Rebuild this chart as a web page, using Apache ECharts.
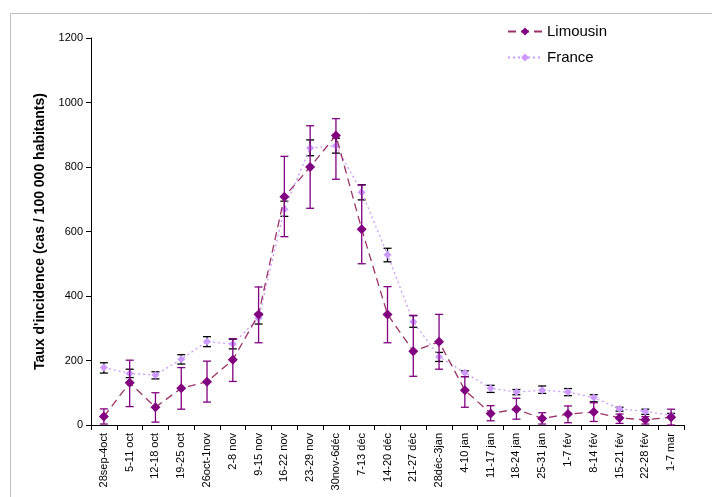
<!DOCTYPE html>
<html>
<head>
<meta charset="utf-8">
<script src="https://cdn.jsdelivr.net/npm/echarts@6/dist/echarts.min.js"></script>
<style>html,body{margin:0;padding:0;background:#fff}#c{width:712px;height:497px}</style>
</head>
<body>
<div id="c"></div>
<script>
const categories = ['28sep-4oct','5-11 oct','12-18 oct','19-25 oct','26oct-1nov','2-8 nov','9-15 nov','16-22 nov','23-29 nov','30nov-6déc','7-13 déc','14-20 déc','21-27 déc','28déc-3jan','4-10 jan','11-17 jan','18-24 jan','25-31 jan','1-7 fév','8-14 fév','15-21 fév','22-28 fév','1-7 mar'];
const limousin     = [26,131,55,114,134,202,343,708,800,898,607,343,229,258,108,36,49,20,34,40,22,16,24];
const limousinLow  = [3,57,9,49,71,135,255,584,672,762,500,255,151,173,55,13,18,3,7,11,5,3,0];
const limousinHigh = [50,201,100,178,198,268,428,833,928,950,744,429,340,343,150,60,83,38,59,69,34,26,49];
const france       = [178,160,155,204,259,251,331,669,859,866,722,528,320,212,162,114,102,108,102,85,50,42,30];
const franceLow    = [161,147,143,189,243,236,313,647,835,843,698,506,303,197,150,101,94,98,91,72,43,33,24];
const franceHigh   = [193,173,165,218,274,266,346,694,884,889,745,548,339,225,168,123,110,121,113,94,55,49,36];
const yTicks = [0,200,400,600,800,1000,1200];

function errData(lo, hi){ return lo.map((v,i)=>[i, v, hi[i]]); }
function errRender(color, cap){
  return function(params, api){
    const lo = api.coord([api.value(0), api.value(1)]);
    const hi = api.coord([api.value(0), api.value(2)]);
    const st = {stroke: color, lineWidth: 1.3};
    return {type:'group', children:[
      {type:'line', shape:{x1:lo[0],y1:lo[1],x2:hi[0],y2:hi[1]}, style:st},
      {type:'line', shape:{x1:lo[0]-cap,y1:lo[1],x2:lo[0]+cap,y2:lo[1]}, style:st},
      {type:'line', shape:{x1:hi[0]-cap,y1:hi[1],x2:hi[0]+cap,y2:hi[1]}, style:st}
    ]};
  };
}

const chart = echarts.init(document.getElementById('c'), null, {renderer:'canvas'});
chart.setOption({
  animation:false,
  backgroundColor:'#fff',
  textStyle:{fontFamily:'Liberation Sans, Arial, sans-serif'},
  graphic:[{type:'rect', left:8, top:11, shape:{width:800, height:600}, style:{fill:'none', stroke:'#c0c0c0', lineWidth:1}, z:-10}],
  grid:{left:91, right:28, top:38, bottom:72},
  legend:{
    orient:'vertical', left:502, top:19, itemGap:11, itemWidth:34, itemHeight:10,
    data:['Limousin','France'],
    textStyle:{fontSize:15, color:'#000', fontFamily:'Liberation Sans, Arial, sans-serif'}
  },
  xAxis:{
    type:'category', data:categories, boundaryGap:true,
    axisLine:{lineStyle:{color:'#000', width:1}},
    axisTick:{show:true, length:5, lineStyle:{color:'#000'}},
    axisLabel:{rotate:90, fontSize:11, color:'#000', margin:8, interval:0}
  },
  yAxis:{
    type:'value', min:0, max:1200, interval:200,
    name:"Taux d'incidence (cas / 100 000 habitants)", nameLocation:'middle', nameGap:44,
    nameTextStyle:{fontSize:14, fontWeight:'bold', color:'#000'},
    splitLine:{show:false},
    axisLine:{show:true, lineStyle:{color:'#000', width:1}},
    axisTick:{show:true, length:5, lineStyle:{color:'#000'}},
    axisLabel:{fontSize:11, color:'#000', margin:8, formatter:v=>yTicks.includes(v)?String(v):''}
  },
  series:[
    {type:'custom', name:'errF', renderItem:errRender('#000', 4), data:errData(franceLow, franceHigh), z:2, silent:true},
    {type:'line', name:'France', data:france, symbol:'diamond', symbolSize:8,
      itemStyle:{color:'#CC99FF'}, lineStyle:{color:'#CC99FF', type:[2,3], width:1.3}, z:3},
    {type:'custom', name:'errL', renderItem:errRender('#800080', 4), data:errData(limousinLow, limousinHigh), z:4, silent:true},
    {type:'line', name:'Limousin', data:limousin, symbol:'diamond', symbolSize:10,
      itemStyle:{color:'#800080'}, lineStyle:{color:'#993366', type:[8,5], width:1.3}, z:5}
  ]
});
</script>
</body>
</html>
